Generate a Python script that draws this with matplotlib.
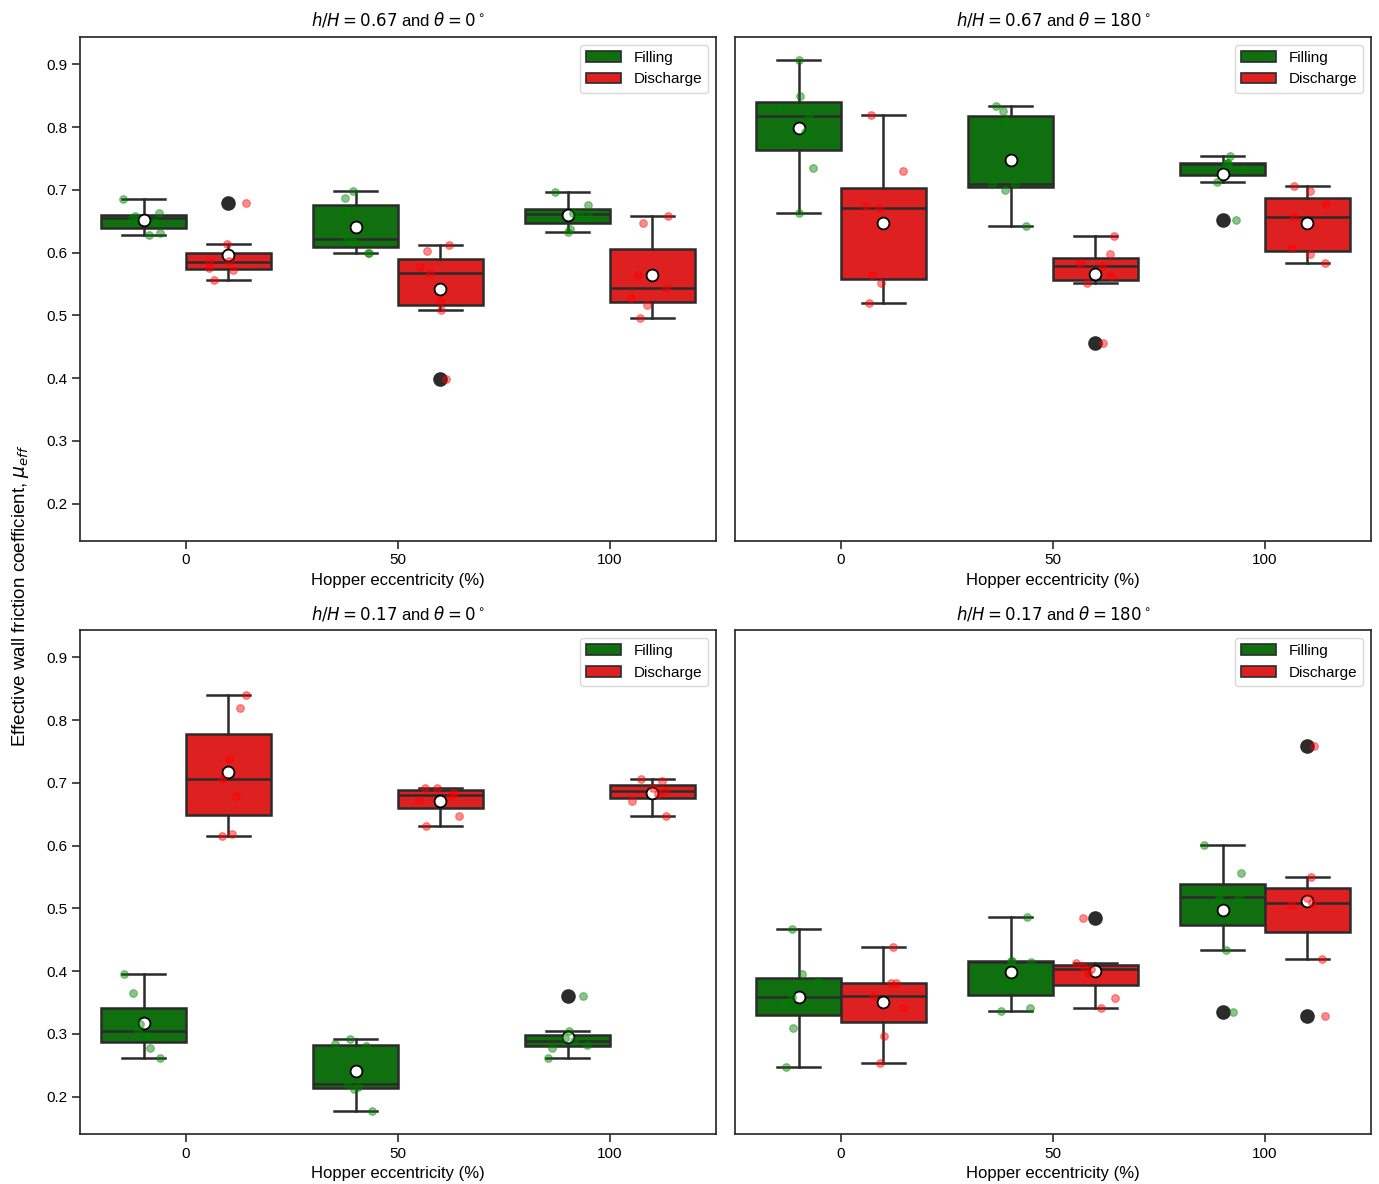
import numpy as np
import matplotlib
matplotlib.use("Agg")
import matplotlib.pyplot as plt
from matplotlib.patches import Patch

plt.rcParams["font.family"] = ["Liberation Sans", "DejaVu Sans"]

eccentricity = ["0", "50", "100"]
phases = ["Filling", "Discharge"]
phase_colors = {"Filling": "#107010", "Discharge": "#df2020"}
point_colors = {"Filling": "green", "Discharge": "red"}

# Effective wall friction coefficient samples, one list per eccentricity
tl_filling = [[0.628, 0.631, 0.648, 0.655, 0.658, 0.663, 0.686],
              [0.600, 0.600, 0.617, 0.621, 0.666, 0.687, 0.698],
              [0.633, 0.637, 0.657, 0.662, 0.663, 0.676, 0.696]]
tl_discharge = [[0.557, 0.573, 0.576, 0.585, 0.587, 0.613, 0.679],
                [0.398, 0.509, 0.523, 0.567, 0.577, 0.603, 0.612],
                [0.496, 0.516, 0.528, 0.544, 0.565, 0.647, 0.659]]
tr_filling = [[0.663, 0.735, 0.792, 0.817, 0.831, 0.850, 0.907],
              [0.643, 0.700, 0.710, 0.710, 0.809, 0.825, 0.834],
              [0.652, 0.712, 0.734, 0.742, 0.743, 0.743, 0.754]]
tr_discharge = [[0.519, 0.551, 0.564, 0.671, 0.675, 0.730, 0.820],
                [0.456, 0.551, 0.563, 0.579, 0.584, 0.598, 0.626],
                [0.584, 0.597, 0.607, 0.657, 0.677, 0.698, 0.706]]
bl_filling = [[0.262, 0.277, 0.297, 0.305, 0.316, 0.366, 0.395],
              [0.177, 0.212, 0.216, 0.221, 0.281, 0.284, 0.292],
              [0.261, 0.277, 0.283, 0.288, 0.293, 0.304, 0.361]]
bl_discharge = [[0.616, 0.618, 0.679, 0.707, 0.738, 0.819, 0.840],
                [0.631, 0.648, 0.673, 0.681, 0.684, 0.692, 0.692],
                [0.647, 0.671, 0.682, 0.687, 0.692, 0.703, 0.706]]
br_filling = [[0.248, 0.310, 0.349, 0.359, 0.384, 0.395, 0.467],
              [0.337, 0.341, 0.382, 0.414, 0.416, 0.417, 0.486],
              [0.335, 0.433, 0.514, 0.519, 0.522, 0.557, 0.601]]
br_discharge = [[0.253, 0.297, 0.341, 0.361, 0.381, 0.381, 0.439],
                [0.341, 0.358, 0.397, 0.403, 0.408, 0.413, 0.484],
                [0.329, 0.419, 0.506, 0.508, 0.516, 0.550, 0.759]]

panel_titles = [r"$h/H = 0.67$ and $\theta = 0^\circ$",
                r"$h/H = 0.67$ and $\theta = 180^\circ$",
                r"$h/H = 0.17$ and $\theta = 0^\circ$",
                r"$h/H = 0.17$ and $\theta = 180^\circ$"]
panel_data = [(tl_filling, tl_discharge), (tr_filling, tr_discharge),
              (bl_filling, bl_discharge), (br_filling, br_discharge)]

fig, axes = plt.subplots(2, 2, figsize=(13.79, 11.84), dpi=100, sharey=True)
fig.subplots_adjust(left=0.058, right=0.9942, top=0.9687, bottom=0.0422,
                    wspace=0.03, hspace=0.177)

rng = np.random.default_rng(7)
line_col = "#2b2b2b"
box_w = 0.4

for ax, title, (fill, dis) in zip(axes.flat, panel_titles, panel_data):
    for h, (phase, groups) in enumerate(zip(phases, (fill, dis))):
        offset = -0.2 if h == 0 else 0.2
        pos = np.arange(len(eccentricity)) + offset
        ax.boxplot(groups, positions=pos, widths=box_w, patch_artist=True,
                   showmeans=True, capwidths=0.2, manage_ticks=False,
                   boxprops=dict(facecolor=phase_colors[phase], edgecolor=line_col, linewidth=1.8),
                   medianprops=dict(color=line_col, linewidth=1.8),
                   whiskerprops=dict(color=line_col, linewidth=1.8),
                   capprops=dict(color=line_col, linewidth=1.8),
                   meanprops=dict(marker="o", markerfacecolor="white",
                                  markeredgecolor="black", markersize=8.5,
                                  markeredgewidth=1.3),
                   flierprops=dict(marker="o", markerfacecolor=line_col,
                                   markeredgecolor=line_col, markersize=9.5),
                   zorder=2)
        for p, vals in zip(pos, groups):
            xs = p + rng.uniform(-0.1, 0.1, len(vals))
            ax.plot(xs, vals, linestyle="none", marker="o", markersize=5.5,
                    color=point_colors[phase], alpha=0.45, markeredgewidth=0.8,
                    zorder=4)
    ax.set_xlim(-0.5, 2.5)
    ax.set_xticks(range(len(eccentricity)))
    ax.set_xticklabels(eccentricity)
    ax.set_xlabel("Hopper eccentricity (%)", fontsize=12)
    ax.set_title(title, fontsize=12, pad=8)
    ax.tick_params(axis="both", labelsize=11, length=5.5, width=1.2, color=line_col)
    for s in ax.spines.values():
        s.set_color(line_col)
        s.set_linewidth(1.25)
    handles = [Patch(facecolor=phase_colors[ph], edgecolor=line_col, linewidth=1.2, label=ph)
               for ph in phases]
    ax.legend(handles=handles, loc="upper right", fontsize=11, framealpha=1,
              edgecolor="#d9d9d9", handlelength=2.3)

axes[0, 0].set_yticks(np.arange(0.2, 0.91, 0.1))
for ax in axes[:, 1]:
    ax.tick_params(axis="y", left=False)

fig.text(0.015, 0.497, r"Effective wall friction coefficient, $\mu_{eff}$",
         rotation=90, va="center", ha="center", fontsize=13.5)

fig.savefig("out.png", dpi=100)
